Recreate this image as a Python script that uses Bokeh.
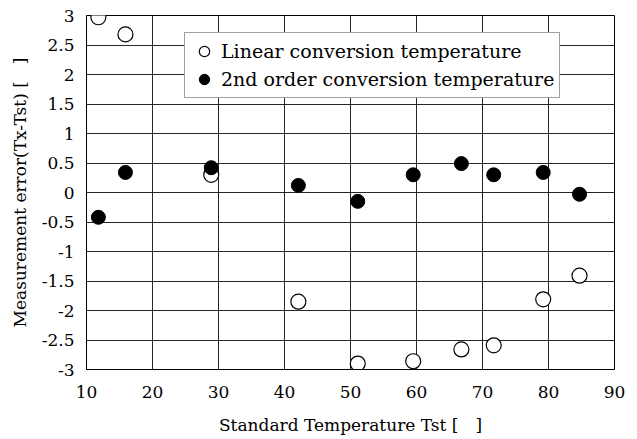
from bokeh.plotting import figure
from bokeh.models import Range1d, FixedTicker, Legend, LegendItem
from bokeh.embed import file_html
from bokeh.resources import INLINE

# ---- data ----
std_temp = [11.8, 15.9, 28.9, 42.1, 51.1, 59.5, 66.8, 71.7, 79.2, 84.7]
linear_err = [2.97, 2.68, 0.30, -1.85, -2.90, -2.86, -2.66, -2.59, -1.81, -1.41]
second_err = [-0.42, 0.34, 0.42, 0.12, -0.15, 0.30, 0.49, 0.30, 0.34, -0.03]

x_ticks = [10, 20, 30, 40, 50, 60, 70, 80, 90]
y_ticks = [-3, -2.5, -2, -1.5, -1, -0.5, 0, 0.5, 1, 1.5, 2, 2.5, 3]
y_tick_labels = ["-3", "-2.5", "-2", "-1.5", "-1", "-0.5", "0", "0.5", "1", "1.5", "2", "2.5", "3"]

series_names = ["Linear conversion temperature", "2nd order conversion temperature"]
x_label = "Standard Temperature Tst [\u2002\u2002]"
y_label = "Measurement error(Tx-Tst) [\u2002\u2002]"

FONT = "DejaVu Serif"
FS = "17px"

p = figure(width=637, height=439, output_backend="svg", toolbar_location=None,
           x_range=Range1d(10, 90), y_range=Range1d(-3, 3),
           min_border_left=86, min_border_right=23, min_border_top=15, min_border_bottom=70)

p.background_fill_color = "white"
p.border_fill_color = "white"
p.outline_line_color = "black"
p.outline_line_width = 1

for ax in (p.xaxis[0], p.yaxis[0]):
    ax.major_label_text_font = FONT
    ax.major_label_text_font_size = FS
    ax.major_label_text_color = "black"
    ax.axis_label_text_font = FONT
    ax.axis_label_text_font_size = FS
    ax.axis_label_text_font_style = "normal"
    ax.axis_label_text_color = "black"
    ax.major_tick_in = 0
    ax.major_tick_out = 0
    ax.minor_tick_in = 0
    ax.minor_tick_out = 0
    ax.axis_line_color = "black"

p.xaxis.ticker = FixedTicker(ticks=x_ticks)
p.yaxis.ticker = FixedTicker(ticks=y_ticks)
p.yaxis.major_label_overrides = {t: s for t, s in zip(y_ticks, y_tick_labels)}
p.xaxis.major_label_standoff = 16
p.yaxis.major_label_standoff = 12
p.xaxis.axis_label = x_label
p.yaxis.axis_label = y_label
p.xaxis.axis_label_standoff = 14
p.yaxis.axis_label_standoff = 9

p.xgrid.grid_line_color = "black"
p.ygrid.grid_line_color = "black"
p.xgrid.grid_line_alpha = 0.85
p.ygrid.grid_line_alpha = 0.85

r_lin = p.scatter(std_temp, linear_err, marker="circle", size=15,
                  fill_color="white", line_color="black", line_width=1.2)
r_sec = p.scatter(std_temp, second_err, marker="circle", size=14,
                  fill_color="black", line_color="black", line_width=1)

legend = Legend(items=[LegendItem(label=series_names[0], renderers=[r_lin]),
                       LegendItem(label=series_names[1], renderers=[r_sec])],
                location=(98, 271))
legend.label_text_font = FONT
legend.label_text_font_size = "19px"
legend.label_text_color = "black"
legend.glyph_width = 28
legend.glyph_height = 26
legend.label_height = 26
legend.spacing = 2
legend.padding = 5
legend.margin = 0
legend.label_standoff = 3
legend.border_line_color = "#444444"
legend.border_line_width = 1
legend.background_fill_color = "white"
legend.background_fill_alpha = 1
p.add_layout(legend, "center")

open("out.html", "w").write(file_html(p, INLINE))
